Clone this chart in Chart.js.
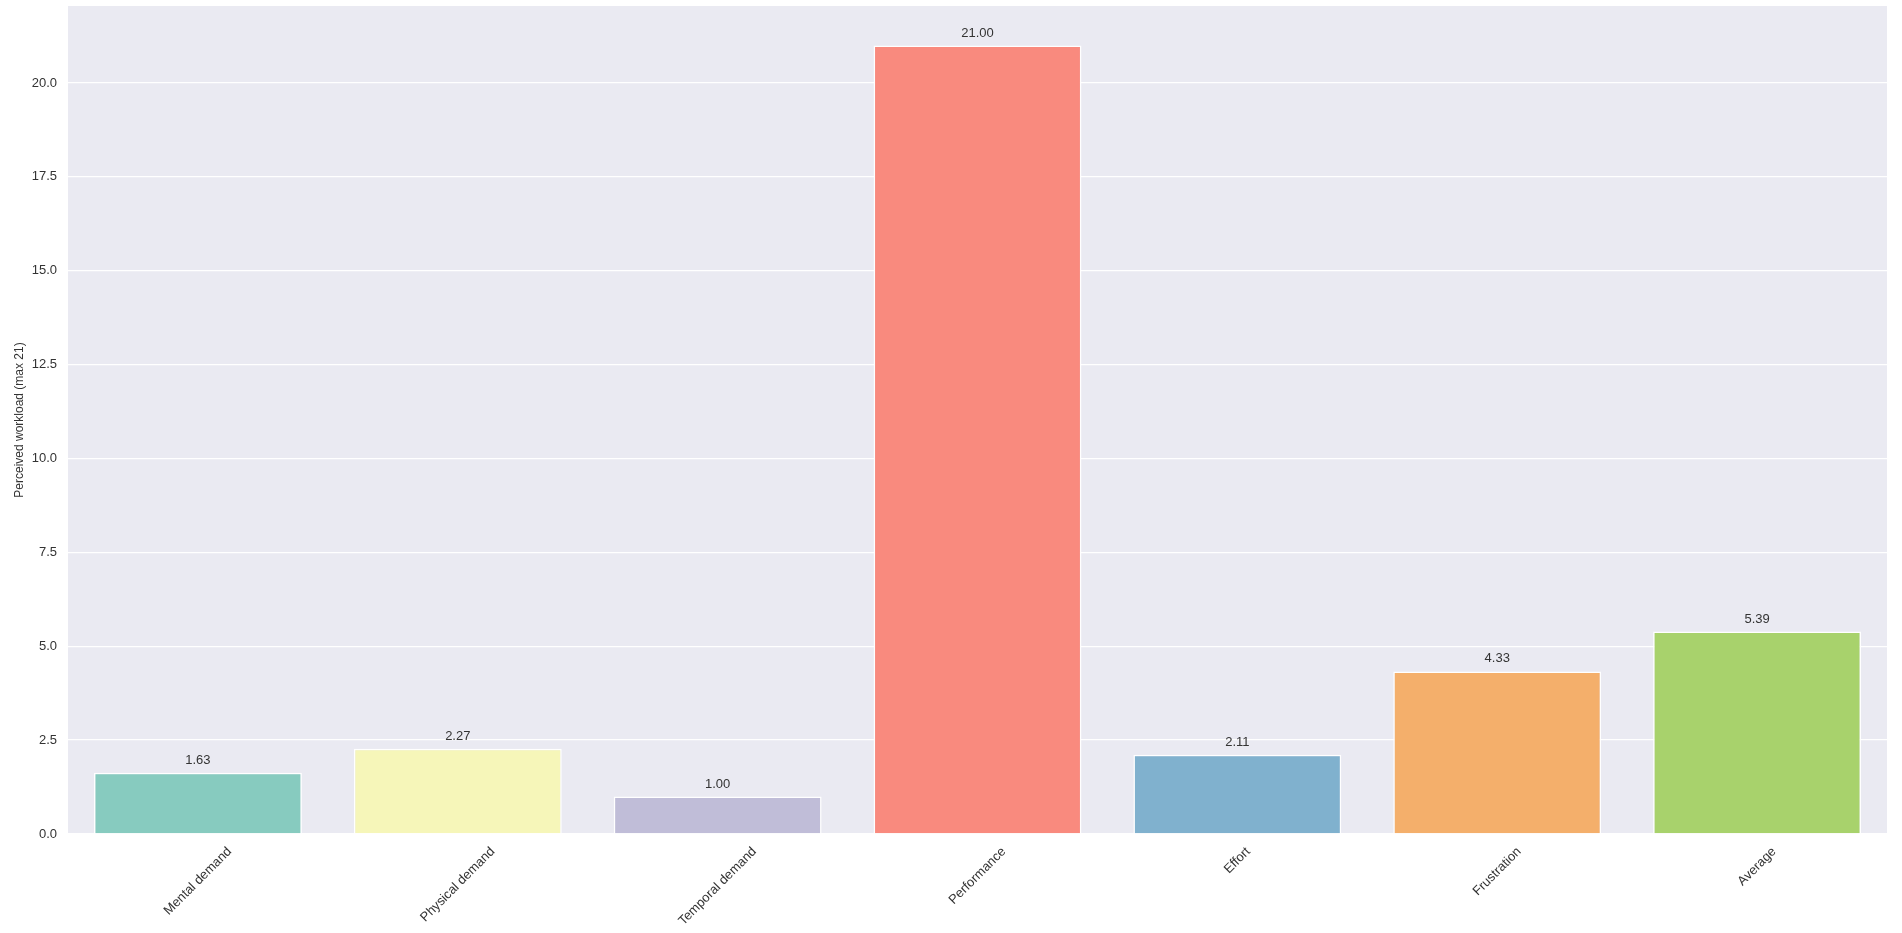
<!DOCTYPE html>
<html>
<head>
<meta charset="utf-8">
<script src="https://cdn.jsdelivr.net/npm/chart.js@4"></script>
<style>
  html, body { margin: 0; padding: 0; background: #ffffff; }
  #wrap { width: 1902px; height: 933px; }
</style>
</head>
<body>
<div id="wrap"><canvas id="workloadChart" width="1902" height="933"></canvas></div>
<script>
// Chart data
const categories = ['Mental demand', 'Physical demand', 'Temporal demand', 'Performance', 'Effort', 'Frustration', 'Average'];
const workload = [1.63, 2.27, 1.00, 21.00, 2.11, 4.33, 5.39];
const barColors = ['#87cbbf', '#f6f6b9', '#c0bdd8', '#f98a7e', '#80b1ce', '#f4af6b', '#a8d26c'];
const yTicks = [0, 2.5, 5, 7.5, 10, 12.5, 15, 17.5, 20];
const yMax = 22.05;
const yTitle = 'Perceived workload (max 21)';

const FONT = '"Liberation Sans", Arial, sans-serif';
const TEXT = '#333333';

// Grey plot background, like seaborn darkgrid
const plotBackground = {
    id: 'plotBackground',
    beforeDraw(chart) {
        const { ctx, chartArea: a } = chart;
        ctx.save();
        ctx.fillStyle = '#eaeaf2';
        ctx.fillRect(a.left, a.top, a.right - a.left, a.bottom - a.top);
        ctx.restore();
    }
};

// Value labels above bars + rotated category labels centered on ticks
const barLabels = {
    id: 'barLabels',
    afterDraw(chart) {
        const { ctx, chartArea: a } = chart;
        const meta = chart.getDatasetMeta(0);
        const xScale = chart.scales.x;
        ctx.save();
        ctx.fillStyle = TEXT;
        ctx.font = '13px ' + FONT;
        ctx.textAlign = 'center';
        ctx.textBaseline = 'bottom';
        meta.data.forEach((bar, i) => {
            ctx.fillText(workload[i].toFixed(2), bar.x, bar.y - 6);
        });

        // category tick labels, rotated 45 degrees, box centered on tick
        ctx.textBaseline = 'middle';
        const h = 13;
        categories.forEach((label, i) => {
            const w = ctx.measureText(label).width;
            const box = (w + h) * Math.SQRT1_2;
            const cx = xScale.getPixelForValue(i);
            const cy = a.bottom + 11 + box / 2;
            ctx.save();
            ctx.translate(cx, cy);
            ctx.rotate(-Math.PI / 4);
            ctx.fillText(label, 0, 0);
            ctx.restore();
        });
        ctx.restore();
    }
};

const ctx = document.getElementById('workloadChart').getContext('2d');
new Chart(ctx, {
    type: 'bar',
    data: {
        labels: categories,
        datasets: [{
            data: workload,
            backgroundColor: barColors,
            borderColor: '#ffffff',
            borderWidth: 1.5,
            categoryPercentage: 0.8,
            barPercentage: 1.0
        }]
    },
    options: {
        responsive: false,
        animation: false,
        devicePixelRatio: 1,
        layout: {
            padding: { top: 6, right: 15, left: 12, bottom: 0 }
        },
        plugins: {
            legend: { display: false },
            tooltip: { enabled: false }
        },
        scales: {
            x: {
                offset: true,
                grid: { display: false },
                border: { display: false },
                ticks: { display: false },
                afterFit(scale) {
                    scale.height = 99;
                    scale.paddingLeft = 0;
                    scale.paddingRight = 0;
                }
            },
            y: {
                min: 0,
                max: yMax,
                grid: { color: '#ffffff', lineWidth: 1.3, drawTicks: false },
                border: { display: false },
                ticks: {
                    padding: 11,
                    color: TEXT,
                    font: { family: FONT, size: 13 },
                    callback: v => v.toFixed(1)
                },
                title: {
                    display: true,
                    text: yTitle,
                    color: TEXT,
                    font: { family: FONT, size: 12 },
                    padding: { top: 0, bottom: 0 }
                },
                afterBuildTicks(scale) {
                    scale.ticks = yTicks.map(v => ({ value: v }));
                },
                afterFit(scale) {
                    scale.width = 56;
                    scale.paddingTop = 0;
                    scale.paddingBottom = 0;
                }
            }
        }
    },
    plugins: [plotBackground, barLabels]
});
</script>
</body>
</html>
